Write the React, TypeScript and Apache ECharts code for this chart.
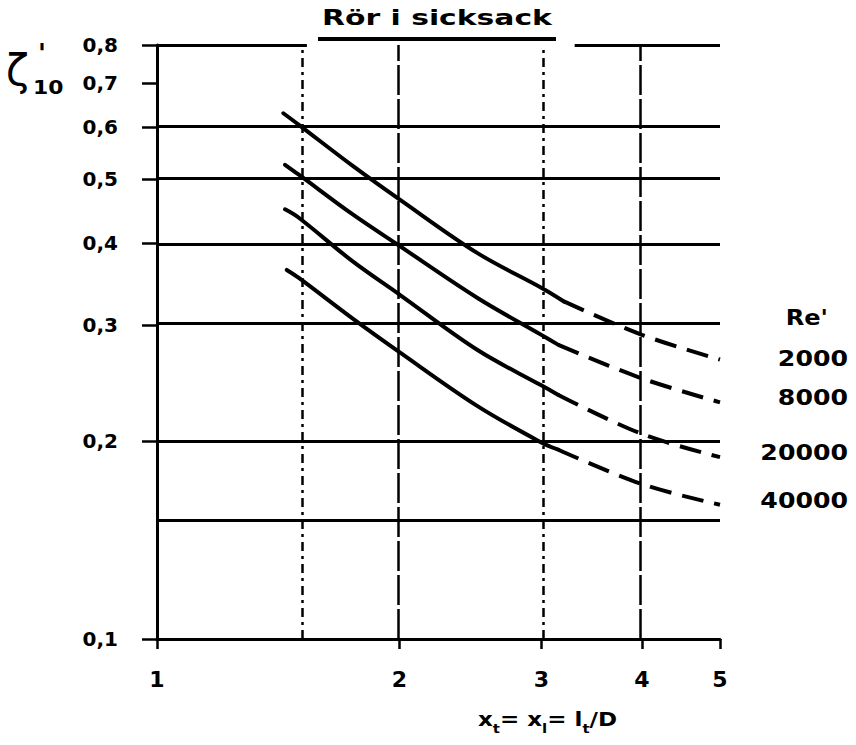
import { useEffect, useRef } from 'react';
import * as echarts from 'echarts';

// Axis ranges and reference lines (real values, both axes logarithmic)
const X_MIN = 1;
const X_MAX = 5;
const Y_MIN = 0.1;
const Y_MAX = 0.8;
const X_TICKS = [1, 2, 3, 4, 5];
const Y_TICKS = [0.1, 0.2, 0.3, 0.4, 0.5, 0.6, 0.7, 0.8];
const H_GRID = [0.15, 0.2, 0.3, 0.4, 0.5, 0.6];
const V_GRID_SOLID = [2, 4];
const V_GRID_DOTTED = [1.5, 3];
// the frame's top edge is broken where the heading sits
const TOP_EDGE_GAP = [1.535, 3.3];

// Re' values of the four curves
const RE_NUMBERS = ['2000', '8000', '20000', '40000'];

// ζ'10 against x_t = x_l = l_t/D; measured (solid) and extrapolated (dashed) parts
const re2000Solid: [number, number][] = [
  [1.435, 0.63], [1.5, 0.605], [1.75, 0.524], [2, 0.466], [2.5, 0.386], [3, 0.342], [3.2, 0.326],
];
const re2000Dashed: [number, number][] = [[3.2, 0.326], [4, 0.29], [5, 0.266]];

const re8000Solid: [number, number][] = [
  [1.442, 0.526], [1.5, 0.508], [1.75, 0.442], [2, 0.396], [2.5, 0.33], [3, 0.29], [3.15, 0.28],
];
const re8000Dashed: [number, number][] = [[3.15, 0.28], [4, 0.249], [5, 0.229]];

const re20000Solid: [number, number][] = [
  [1.442, 0.45], [1.5, 0.437], [1.75, 0.375], [2, 0.334], [2.5, 0.275], [3, 0.243], [3.15, 0.235],
];
const re20000Dashed: [number, number][] = [[3.15, 0.235], [4, 0.205], [5, 0.189]];

const re40000Solid: [number, number][] = [
  [1.449, 0.364], [1.5, 0.354], [1.75, 0.307], [2, 0.273], [2.5, 0.226], [3, 0.199], [3.15, 0.194],
];
const re40000Dashed: [number, number][] = [[3.15, 0.194], [4, 0.172], [5, 0.16]];

const SOLID_PARTS = [re2000Solid, re8000Solid, re20000Solid, re40000Solid];
const DASHED_PARTS = [re2000Dashed, re8000Dashed, re20000Dashed, re40000Dashed];

// Layout
const W = 856;
const H = 745;
const GRID = { left: 157, right: 136, top: 45, bottom: 106 };
const LEGEND_RIGHT = 848;
const LEGEND_Y = [358, 397, 452, 500];
const FONT = '"DejaVu Sans", "Liberation Sans", sans-serif';
const INK = '#000';

const lg = (v: number) => Math.log10(v);

function buildOption(): echarts.EChartsOption {
  const curveSeries: any[] = [];
  SOLID_PARTS.forEach((part, i) => {
    curveSeries.push({
      name: RE_NUMBERS[i],
      type: 'line',
      data: part.map(([x, y]) => [lg(x), lg(y)]),
      smooth: 0.35,
      symbol: 'none',
      clip: false,
      z: 5,
      lineStyle: { color: INK, width: 4, type: 'solid', cap: 'round' },
    });
    curveSeries.push({
      name: RE_NUMBERS[i] + ' (ext.)',
      type: 'line',
      data: DASHED_PARTS[i].map(([x, y]) => [lg(x), lg(y)]),
      smooth: 0.35,
      symbol: 'none',
      clip: false,
      z: 5,
      lineStyle: { color: INK, width: 4, type: [22, 11], cap: 'butt' },
    });
  });

  const gridLines: any[] = [
    ...H_GRID.map((v) => ({ yAxis: lg(v), lineStyle: { color: INK, width: 3, type: 'solid' } })),
    ...V_GRID_SOLID.map((v) => ({ xAxis: lg(v), lineStyle: { color: INK, width: 2.5, type: [30, 4] } })),
    ...V_GRID_DOTTED.map((v) => ({ xAxis: lg(v), lineStyle: { color: INK, width: 2.5, type: [9, 5, 3, 5] } })),
    { xAxis: lg(X_MAX), lineStyle: { color: INK, width: 3, type: 'solid' } },
    [
      { coord: [lg(X_MIN), lg(Y_MAX)], lineStyle: { color: INK, width: 3, type: 'solid' } },
      { coord: [lg(TOP_EDGE_GAP[0]), lg(Y_MAX)] },
    ],
    [
      { coord: [lg(TOP_EDGE_GAP[1]), lg(Y_MAX)], lineStyle: { color: INK, width: 3, type: 'solid' } },
      { coord: [lg(X_MAX), lg(Y_MAX)] },
    ],
  ];

  const legendTexts: any[] = [
    {
      type: 'text',
      x: 828,
      y: 318,
      scaleX: 1.15,
      style: {
        text: "Re'",
        font: `bold 21px ${FONT}`,
        fill: INK,
        textAlign: 'right',
        textVerticalAlign: 'middle',
      },
    },
    ...RE_NUMBERS.map((t, i) => ({
      type: 'text',
      x: LEGEND_RIGHT,
      y: LEGEND_Y[i],
      scaleX: 1.2,
      style: {
        text: t,
        font: `bold 21px ${FONT}`,
        fill: INK,
        textAlign: 'right',
        textVerticalAlign: 'middle',
      },
    })),
  ];

  return {
    animation: false,
    backgroundColor: '#fff',
    grid: { ...GRID, show: false },
    xAxis: {
      type: 'value',
      min: lg(X_MIN),
      max: lg(X_MAX),
      axisLine: { show: true, onZero: false, lineStyle: { color: INK, width: 3 } },
      axisTick: {
        show: true,
        customValues: X_TICKS.map(lg),
        length: 10,
        lineStyle: { color: INK, width: 2.5 },
      },
      axisLabel: {
        customValues: X_TICKS.map(lg),
        formatter: (v: number) => String(Math.round(Math.pow(10, v))),
        color: INK,
        fontSize: 22,
        fontWeight: 'bold',
        fontFamily: FONT,
        margin: 29,
      },
      splitLine: { show: false },
    },
    yAxis: {
      type: 'value',
      min: lg(Y_MIN),
      max: lg(Y_MAX),
      axisLine: { show: true, onZero: false, lineStyle: { color: INK, width: 3 } },
      axisTick: {
        show: true,
        customValues: Y_TICKS.map(lg),
        length: 15,
        lineStyle: { color: INK, width: 2.5 },
      },
      axisLabel: {
        customValues: Y_TICKS.map(lg),
        formatter: (v: number) => Math.pow(10, v).toFixed(1).replace('.', ','),
        color: INK,
        fontSize: 20,
        fontWeight: 'bold',
        fontFamily: FONT,
        margin: 39,
      },
      splitLine: { show: false },
    },
    series: [
      {
        name: 'grid',
        type: 'line',
        data: [],
        clip: false,
        z: 2,
        markLine: {
          silent: true,
          symbol: ['none', 'none'],
          label: { show: false },
          emphasis: { disabled: true },
          animation: false,
          data: gridLines,
        },
      },
      ...curveSeries,
    ],
    graphic: [
      {
        type: 'text',
        x: 437,
        y: 18,
        scaleX: 1.42,
        style: {
          text: 'Rör i sicksack',
          font: `bold 21px ${FONT}`,
          fill: INK,
          textAlign: 'center',
          textVerticalAlign: 'middle',
        },
      },
      {
        type: 'line',
        shape: { x1: 318, y1: 39, x2: 556, y2: 39 },
        style: { stroke: INK, lineWidth: 4 },
      },
      {
        type: 'text',
        x: 6,
        y: 70,
        style: {
          text: 'ζ',
          font: `42px ${FONT}`,
          fill: INK,
          textAlign: 'left',
          textVerticalAlign: 'middle',
        },
      },
      {
        type: 'text',
        x: 38,
        y: 54,
        style: {
          text: "'",
          font: `bold 26px ${FONT}`,
          fill: INK,
          textAlign: 'left',
          textVerticalAlign: 'middle',
        },
      },
      {
        type: 'text',
        x: 33,
        y: 88,
        scaleX: 1.15,
        style: {
          text: '10',
          font: `bold 19px ${FONT}`,
          fill: INK,
          textAlign: 'left',
          textVerticalAlign: 'middle',
        },
      },
      {
        type: 'text',
        x: 478,
        y: 722,
        scaleX: 1.15,
        style: {
          text: '{m|x}{s|t}{m|= x}{s|l}{m|= l}{s|t}{m|/D}',
          textAlign: 'left',
          textVerticalAlign: 'middle',
          rich: {
            m: { font: `bold 20px ${FONT}`, fill: INK, lineHeight: 26, verticalAlign: 'top' },
            s: { font: `bold 13px ${FONT}`, fill: INK, lineHeight: 14, verticalAlign: 'bottom' },
          },
        },
      },
      ...legendTexts,
    ],
  } as echarts.EChartsOption;
}

export default function App() {
  const ref = useRef<HTMLDivElement>(null);

  useEffect(() => {
    if (!ref.current) return;
    const chart = echarts.init(ref.current, undefined, { renderer: 'svg', width: W, height: H });
    chart.setOption(buildOption());
    return () => chart.dispose();
  }, []);

  return (
    <div
      ref={ref}
      style={{ position: 'fixed', left: 0, top: 0, width: W, height: H, background: '#fff' }}
    />
  );
}
